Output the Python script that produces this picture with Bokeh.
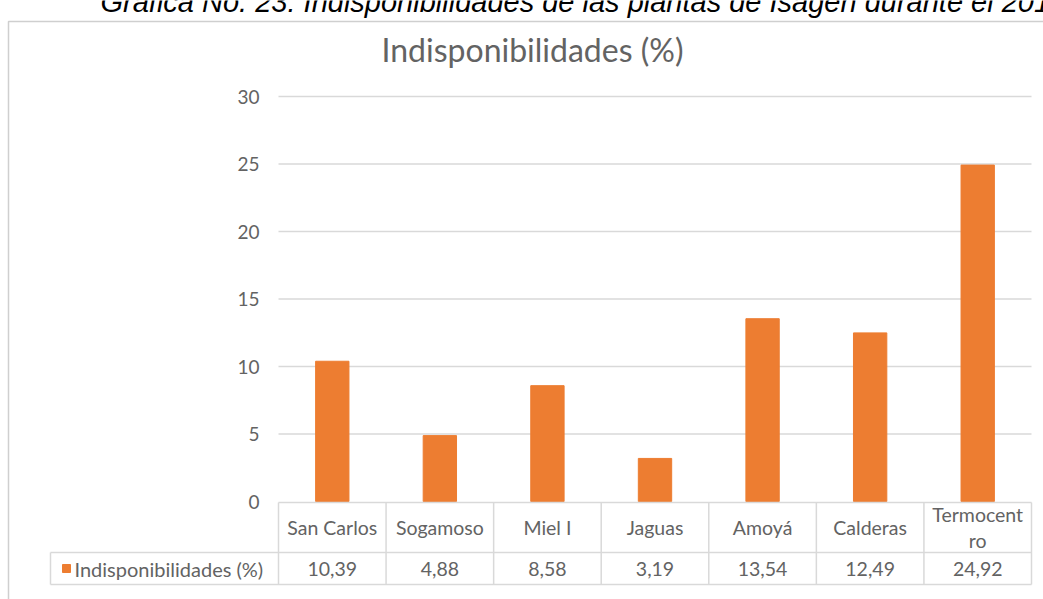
from bokeh.plotting import figure
from bokeh.models import Range1d, ColumnDataSource
from bokeh.core.properties import value
from bokeh.embed import file_html
from bokeh.resources import INLINE

# ---- data ----
categories = ["San Carlos", "Sogamoso", "Miel I", "Jaguas", "Amoyá", "Calderas", "Termocentro"]
values = [10.39, 4.88, 8.58, 3.19, 13.54, 12.49, 24.92]
series_name = "Indisponibilidades (%)"
y_ticks = [0, 5, 10, 15, 20, 25, 30]
y_tick_labels = ["0", "5", "10", "15", "20", "25", "30"]
chart_title = "Indisponibilidades (%)"
caption = "Gráfica No. 23: Indisponibilidades de las plantas de Isagen durante el 201"

# ---- geometry (pixel layout of the plot area) ----
W, H = 1043, 599
PL, PR = 278, 1031          # plot-area left / right edge
Y0, PPU = 501, 13.5         # pixel row of value 0, pixels per unit
n = len(categories)
CW = (PR - PL) / n

def px2x(px):
    return (px - PL) / CW

def px2y(py):
    return (Y0 - py) / PPU

ORANGE = "#ED7D31"
GRAY_TXT = "#636363"
LINE = "#D9D9D9"
FONT = "Lato"

p = figure(width=W, height=H, output_backend="svg", toolbar_location=None,
           x_range=Range1d(px2x(0), px2x(W)), y_range=Range1d(px2y(H), px2y(0)),
           x_axis_location=None, y_axis_location=None,
           min_border=0, outline_line_color=None,
           background_fill_color="white", border_fill_color="white")
p.grid.visible = False

# ---- chart border ----
p.quad(left=[px2x(8)], right=[px2x(W + 20)], top=[px2y(21)], bottom=[px2y(H + 20)],
       fill_color=None, line_color="#CFCFCF", line_width=1.5)

# ---- value axis: grid lines and tick labels ----
gt = y_ticks[1:]
p.segment(x0=[0] * len(gt), x1=[n] * len(gt), y0=gt, y1=gt, line_color=LINE, line_width=1.5)
p.text(x=[px2x(259)] * len(y_ticks), y=y_ticks, text=y_tick_labels, text_font=value(FONT),
       text_font_size="19px", text_color=GRAY_TXT, text_align="right", text_baseline="middle")

# ---- bars ----
xc = [i + 0.5 for i, _ in enumerate(categories)]
src = ColumnDataSource(dict(x=xc, val=values, cat=categories))
p.vbar(x="x", top="val", bottom=0, width=0.31, source=src, color=ORANGE)

# ---- data table ----
row_top, row_mid, row_bot = 502, 552, 584
p.segment(x0=[0], x1=[n], y0=[px2y(row_top)], y1=[px2y(row_top)], line_color=LINE, line_width=1.5)
p.segment(x0=[px2x(50)] * 2, x1=[n] * 2, y0=[px2y(row_mid), px2y(row_bot)],
          y1=[px2y(row_mid), px2y(row_bot)], line_color=LINE, line_width=1.5)
xs = list(range(n + 1))
p.segment(x0=xs, x1=xs, y0=[px2y(row_top)] * (n + 1), y1=[px2y(row_bot)] * (n + 1),
          line_color=LINE, line_width=1.5)
p.segment(x0=[px2x(50)], x1=[px2x(50)], y0=[px2y(row_mid)], y1=[px2y(row_bot)],
          line_color=LINE, line_width=1.5)

# legend key + series name
row_c = (row_mid + row_bot) / 2
p.rect(x=[px2x(66)], y=[px2y(row_c)], width=8 / CW, height=8 / PPU, color=ORANGE)
p.text(x=[px2x(74)], y=[px2y(row_c)], text=[series_name], text_font=value(FONT),
       text_font_size="20px", text_color=GRAY_TXT, text_align="left", text_baseline="middle")

def wrap(s, w=9):
    return s if len(s) <= w + 1 else s[:w] + "\n" + s[w:]

hdr = [wrap(c) for c in categories]
val_txt = [f"{v:.2f}".replace(".", ",") for v in values]
tsrc = ColumnDataSource(dict(x=xc, hdr=hdr, vt=val_txt))
p.text(x="x", y=px2y((row_top + row_mid) / 2), text="hdr", source=tsrc, text_font=value(FONT),
       text_font_size="19.5px", text_color=GRAY_TXT, text_align="center", text_baseline="middle",
       text_line_height=1.15)
p.text(x="x", y=px2y(row_c), text="vt", source=tsrc, text_font=value(FONT), text_font_size="19.5px",
       text_color=GRAY_TXT, text_align="center", text_baseline="middle")

# ---- titles ----
p.text(x=[px2x(532)], y=[px2y(49)], text=[chart_title], text_font=value(FONT),
       text_font_size="32px", text_color=GRAY_TXT, text_align="center", text_baseline="middle")
p.text(x=[px2x(100)], y=[px2y(1)], text=[caption], text_font=value("Liberation Sans"),
       text_font_style="italic", text_font_size="29px", text_color="black",
       text_align="left", text_baseline="alphabetic")

open("out.html", "w").write(file_html(p, INLINE))
